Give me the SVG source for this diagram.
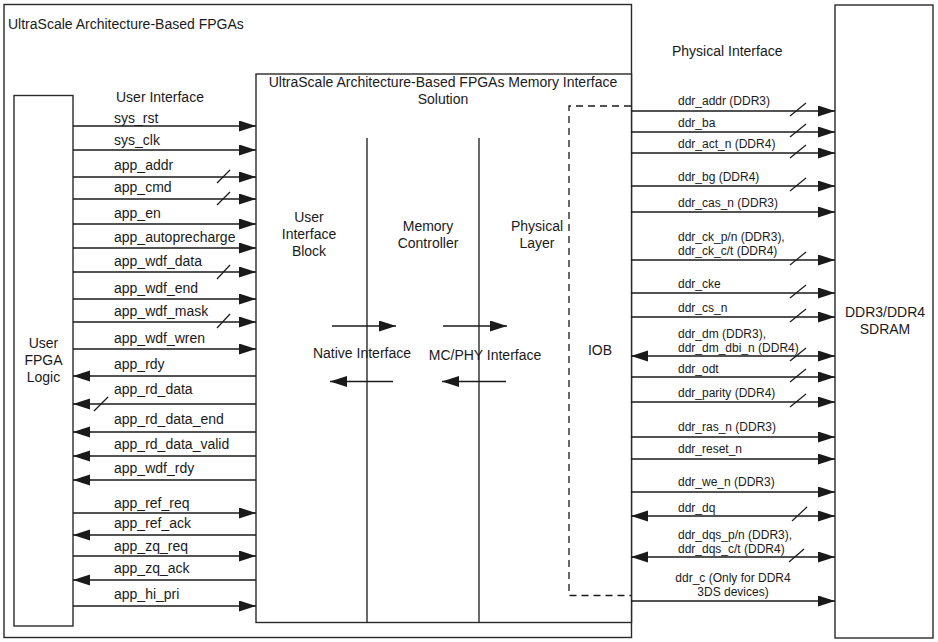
<svg xmlns="http://www.w3.org/2000/svg" width="938" height="642" viewBox="0 0 938 642">
<defs>
<style>
text{font-family:"Liberation Sans",Arial,sans-serif;fill:#1a1a1a;}
.t14{font-size:14px;}
.t12{font-size:12px;}
.mid{text-anchor:middle;}
.box{fill:#fff;stroke:#2a2a2a;stroke-width:1.4;}
.ln{stroke:#1a1a1a;stroke-width:1.3;fill:none;}
.ar{stroke:#1a1a1a;stroke-width:1.3;fill:none;marker-end:url(#ah);}
.bi{stroke:#1a1a1a;stroke-width:1.3;fill:none;marker-end:url(#ah);marker-start:url(#ah);}
.sl{stroke:#1a1a1a;stroke-width:1.2;}
.dash{stroke:#1a1a1a;stroke-width:1.3;fill:none;stroke-dasharray:7,5;}
</style>
<marker id="ah" markerUnits="userSpaceOnUse" markerWidth="18" markerHeight="12" refX="17" refY="5.5" orient="auto-start-reverse">
<path d="M0,0 L17,5.5 L0,11 Z" fill="#1a1a1a"/>
</marker>
</defs>
<rect width="938" height="642" fill="#fff"/>

<g id="fpga-outer">
<rect class="box" x="4" y="4.5" width="627.5" height="633"/>
<text class="t14" x="8" y="29">UltraScale Architecture-Based FPGAs</text>
<text class="t14" x="672" y="56">Physical Interface</text>
<text class="t14" x="116" y="102">User Interface</text>
</g>

<g id="mis">
<rect class="box" x="256" y="74" width="375.5" height="548.5"/>
<text class="t14 mid" x="443" y="87">UltraScale Architecture-Based FPGAs Memory Interface</text>
<text class="t14 mid" x="443" y="104">Solution</text>
<line class="ln" x1="367" y1="138" x2="367" y2="622.5"/>
<line class="ln" x1="479" y1="138" x2="479" y2="622.5"/>
</g>

<g id="uib">
<text class="t14 mid" x="309" y="222">User</text>
<text class="t14 mid" x="309" y="239">Interface</text>
<text class="t14 mid" x="309" y="256">Block</text>
</g>
<g id="mc">
<text class="t14 mid" x="428" y="231">Memory</text>
<text class="t14 mid" x="428" y="248">Controller</text>
</g>
<g id="phy">
<text class="t14 mid" x="537" y="231">Physical</text>
<text class="t14 mid" x="537" y="248">Layer</text>
</g>
<g id="iob">
<path class="dash" d="M631,106 H569 V595.5 H631"/>
<text class="t14 mid" x="600" y="355">IOB</text>
</g>

<g id="user-fpga">
<rect class="box" x="14" y="95.5" width="59" height="530.5"/>
<text class="t14 mid" x="43.5" y="348">User</text>
<text class="t14 mid" x="43.5" y="365">FPGA</text>
<text class="t14 mid" x="43.5" y="382">Logic</text>
</g>

<g id="sdram">
<rect class="box" x="835" y="5" width="98" height="633"/>
<text class="t14 mid" x="885" y="317">DDR3/DDR4</text>
<text class="t14 mid" x="885" y="334">SDRAM</text>
</g>

<g id="connectors">
<!-- internal interfaces -->
<line class="ar" x1="332" y1="326" x2="396" y2="326"/>
<line class="ar" x1="393" y1="381.5" x2="330" y2="381.5"/>
<line class="ar" x1="443" y1="326" x2="507" y2="326"/>
<line class="ar" x1="506" y1="381.5" x2="442" y2="381.5"/>
<text class="t14 mid" x="362" y="358">Native Interface</text>
<text class="t14 mid" x="485" y="360">MC/PHY Interface</text>

<!-- user interface signals -->
<line class="ar" x1="73" y1="126" x2="256" y2="126"/><text class="t14" x="114" y="123">sys_rst</text>
<line class="ar" x1="73" y1="150" x2="256" y2="150"/><text class="t14" x="114" y="145">sys_clk</text>
<line class="ar" x1="73" y1="177" x2="256" y2="177"/><text class="t14" x="114" y="170">app_addr</text>
<line class="sl" x1="217" y1="183" x2="230" y2="170"/>
<line class="ar" x1="73" y1="199" x2="256" y2="199"/><text class="t14" x="114" y="192">app_cmd</text>
<line class="sl" x1="217" y1="205" x2="230" y2="192"/>
<line class="ar" x1="73" y1="224" x2="256" y2="224"/><text class="t14" x="114" y="218">app_en</text>
<line class="ar" x1="73" y1="248" x2="256" y2="248"/><text class="t14" x="114" y="242">app_autoprecharge</text>
<line class="ar" x1="73" y1="272" x2="256" y2="272"/><text class="t14" x="114" y="266">app_wdf_data</text>
<line class="sl" x1="217" y1="279" x2="230" y2="265"/>
<line class="ar" x1="73" y1="299" x2="256" y2="299"/><text class="t14" x="114" y="293">app_wdf_end</text>
<line class="ar" x1="73" y1="322" x2="256" y2="322"/><text class="t14" x="114" y="316">app_wdf_mask</text>
<line class="sl" x1="217" y1="328" x2="230" y2="314"/>
<line class="ar" x1="73" y1="349" x2="256" y2="349"/><text class="t14" x="114" y="343">app_wdf_wren</text>
<line class="ar" x1="256" y1="376" x2="73" y2="376"/><text class="t14" x="114" y="369">app_rdy</text>
<line class="ar" x1="256" y1="404" x2="73" y2="404"/><text class="t14" x="114" y="394">app_rd_data</text>
<line class="sl" x1="94" y1="411" x2="108" y2="397"/>
<line class="ar" x1="256" y1="432" x2="73" y2="432"/><text class="t14" x="114" y="424">app_rd_data_end</text>
<line class="ar" x1="256" y1="456" x2="73" y2="456"/><text class="t14" x="114" y="449">app_rd_data_valid</text>
<line class="ar" x1="256" y1="480" x2="73" y2="480"/><text class="t14" x="114" y="473">app_wdf_rdy</text>
<line class="ar" x1="73" y1="513" x2="256" y2="513"/><text class="t14" x="114" y="508">app_ref_req</text>
<line class="ar" x1="256" y1="535" x2="73" y2="535"/><text class="t14" x="114" y="528">app_ref_ack</text>
<line class="ar" x1="73" y1="556" x2="256" y2="556"/><text class="t14" x="114" y="551">app_zq_req</text>
<line class="ar" x1="256" y1="580" x2="73" y2="580"/><text class="t14" x="114" y="573">app_zq_ack</text>
<line class="ar" x1="73" y1="606" x2="256" y2="606"/><text class="t14" x="114" y="599">app_hi_pri</text>

<!-- physical interface signals -->
<line class="ar" x1="631" y1="111" x2="835" y2="111"/><text class="t12" x="678" y="105">ddr_addr (DDR3)</text>
<line class="sl" x1="790" y1="116" x2="806" y2="103"/>
<line class="ar" x1="631" y1="132" x2="835" y2="132"/><text class="t12" x="678" y="127">ddr_ba</text>
<line class="sl" x1="790" y1="137" x2="806" y2="124"/>
<line class="ar" x1="631" y1="153" x2="835" y2="153"/><text class="t12" x="678" y="148">ddr_act_n (DDR4)</text>
<line class="sl" x1="790" y1="158" x2="806" y2="145"/>
<line class="ar" x1="631" y1="186" x2="835" y2="186"/><text class="t12" x="678" y="181">ddr_bg (DDR4)</text>
<line class="sl" x1="790" y1="191" x2="806" y2="178"/>
<line class="ar" x1="631" y1="212" x2="835" y2="212"/><text class="t12" x="678" y="207">ddr_cas_n (DDR3)</text>
<line class="ar" x1="631" y1="260" x2="835" y2="260"/><text class="t12" x="678" y="241">ddr_ck_p/n (DDR3),</text><text class="t12" x="678" y="255">ddr_ck_c/t (DDR4)</text>
<line class="sl" x1="790" y1="265" x2="806" y2="252"/>
<line class="ar" x1="631" y1="293" x2="835" y2="293"/><text class="t12" x="678" y="288">ddr_cke</text>
<line class="sl" x1="790" y1="298" x2="806" y2="285"/>
<line class="ar" x1="631" y1="317" x2="835" y2="317"/><text class="t12" x="678" y="312">ddr_cs_n</text>
<line class="sl" x1="790" y1="322" x2="806" y2="309"/>
<line class="bi" x1="631" y1="356" x2="835" y2="356"/><text class="t12" x="678" y="338">ddr_dm (DDR3),</text><text class="t12" x="678" y="352">ddr_dm_dbi_n (DDR4)</text>
<line class="sl" x1="790" y1="361" x2="806" y2="348"/>
<line class="ar" x1="631" y1="377" x2="835" y2="377"/><text class="t12" x="678" y="373">ddr_odt</text>
<line class="sl" x1="790" y1="382" x2="806" y2="369"/>
<line class="ar" x1="631" y1="402" x2="835" y2="402"/><text class="t12" x="678" y="397">ddr_parity (DDR4)</text>
<line class="sl" x1="790" y1="407" x2="806" y2="394"/>
<line class="ar" x1="631" y1="437" x2="835" y2="437"/><text class="t12" x="678" y="431">ddr_ras_n (DDR3)</text>
<line class="ar" x1="631" y1="459" x2="835" y2="459"/><text class="t12" x="678" y="453">ddr_reset_n</text>
<line class="ar" x1="631" y1="492" x2="835" y2="492"/><text class="t12" x="678" y="486">ddr_we_n (DDR3)</text>
<line class="bi" x1="631" y1="516" x2="835" y2="516"/><text class="t12" x="678" y="512">ddr_dq</text>
<line class="sl" x1="792" y1="521" x2="807" y2="507"/>
<line class="bi" x1="631" y1="557" x2="835" y2="557"/><text class="t12" x="678" y="538.5">ddr_dqs_p/n (DDR3),</text><text class="t12" x="678" y="553">ddr_dqs_c/t (DDR4)</text>
<line class="sl" x1="789" y1="562" x2="804" y2="549"/>
<line class="ar" x1="631" y1="601" x2="835" y2="601"/><text class="t12 mid" x="733" y="582">ddr_c (Only for DDR4</text><text class="t12 mid" x="733" y="596">3DS devices)</text>
</g>
</svg>
